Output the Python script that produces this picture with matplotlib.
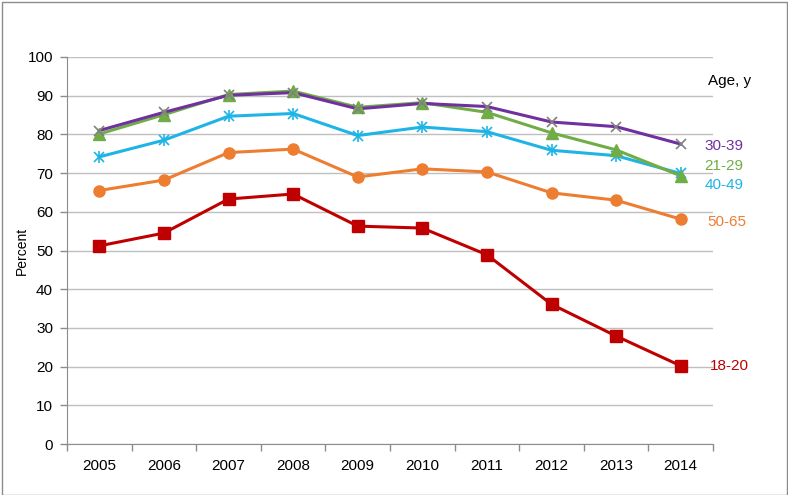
import numpy as np
import matplotlib
matplotlib.use("Agg")
import matplotlib.pyplot as plt
from matplotlib.patches import Rectangle

plt.rcParams['font.family'] = ['Liberation Sans', 'DejaVu Sans']

years = [2005, 2006, 2007, 2008, 2009, 2010, 2011, 2012, 2013, 2014]

age_18_20 = [51.2, 54.5, 63.3, 64.6, 56.3, 55.8, 48.9, 36.1, 27.9, 20.2]
age_21_29 = [80.1, 85.1, 90.3, 91.2, 87.0, 88.2, 85.7, 80.4, 76.0, 69.3]
age_30_39 = [81.0, 85.7, 90.1, 90.8, 86.6, 88.0, 87.2, 83.2, 82.0, 77.5]
age_40_49 = [74.2, 78.5, 84.7, 85.4, 79.7, 81.9, 80.7, 75.9, 74.5, 69.9]
age_50_65 = [65.5, 68.2, 75.3, 76.2, 69.0, 71.1, 70.3, 64.9, 63.0, 58.1]

series = [
    # label, values, line colour, marker, marker colour, label x, label y (data units)
    ("50-65", age_50_65, "#ED7D31", "o", "#ED7D31", 9.42, 57.4),
    ("40-49", age_40_49, "#1FB4E6", "*", "#1FB4E6", 9.37, 66.9),
    ("21-29", age_21_29, "#70AD47", "^", "#70AD47", 9.37, 71.8),
    ("30-39", age_30_39, "#7030A0", "x", "#808080", 9.37, 77.0),
    ("18-20", age_18_20, "#C00000", "s", "#C00000", 9.45, 20.2),
]

fig = plt.figure(figsize=(7.88, 4.95), dpi=100)
ax = fig.add_axes([67 / 788, 51 / 495, 646 / 788, 387 / 495])

x = np.arange(len(years))
for label, vals, color, marker, mcolor, lx, ly in series:
    ax.plot(x, vals, color=color, lw=2.2, zorder=3)
    if marker == "*":
        # asterisk-like marker: x plus a vertical bar
        ax.plot(x, vals, ls="none", marker="x", ms=7, mew=1.2, color=mcolor, zorder=4)
        ax.plot(x, vals, ls="none", marker="|", ms=8, mew=1.2, color=mcolor, zorder=4)
    elif marker == "x":
        ax.plot(x, vals, ls="none", marker="x", ms=7, mew=1.2, color=mcolor, zorder=4)
    else:
        ax.plot(x, vals, ls="none", marker=marker, ms=8, color=mcolor, zorder=4)
    ax.text(lx, ly, label, color=color, fontsize=11, va="center", ha="left",
            clip_on=False)

ax.text(9.43, 93.8, "Age, y", color="black", fontsize=11, va="center", ha="left",
        clip_on=False)

ax.set_xlim(-0.5, 9.5)
ax.set_ylim(0, 100)
ax.set_yticks(np.arange(0, 101, 10))
ax.set_xticks(x)
ax.set_xticklabels([str(y) for y in years], fontsize=11)
ax.set_xticks(np.arange(-0.5, 10, 1), minor=True)
ax.tick_params(axis="x", which="major", length=0, pad=11)
ax.tick_params(axis="x", which="minor", length=5, color="#8C8C8C", width=1)
ax.tick_params(axis="y", length=5, color="#8C8C8C", width=1, labelsize=11, pad=5)

ax.grid(axis="y", color="#BFBFBF", lw=1, zorder=0)
for side in ["top", "right"]:
    ax.spines[side].set_visible(False)
for side in ["left", "bottom"]:
    ax.spines[side].set_color("#8C8C8C")
ax.set_ylabel("Percent", fontsize=10)
ax.yaxis.set_label_coords(-38 / 646, 0.5)

fig.patches.append(Rectangle((1.5 / 788, 0.5 / 495), 785 / 788, 493 / 495,
                             transform=fig.transFigure, fill=False,
                             edgecolor="#8C8C8C", lw=1))

fig.savefig("out.png", dpi=100)
